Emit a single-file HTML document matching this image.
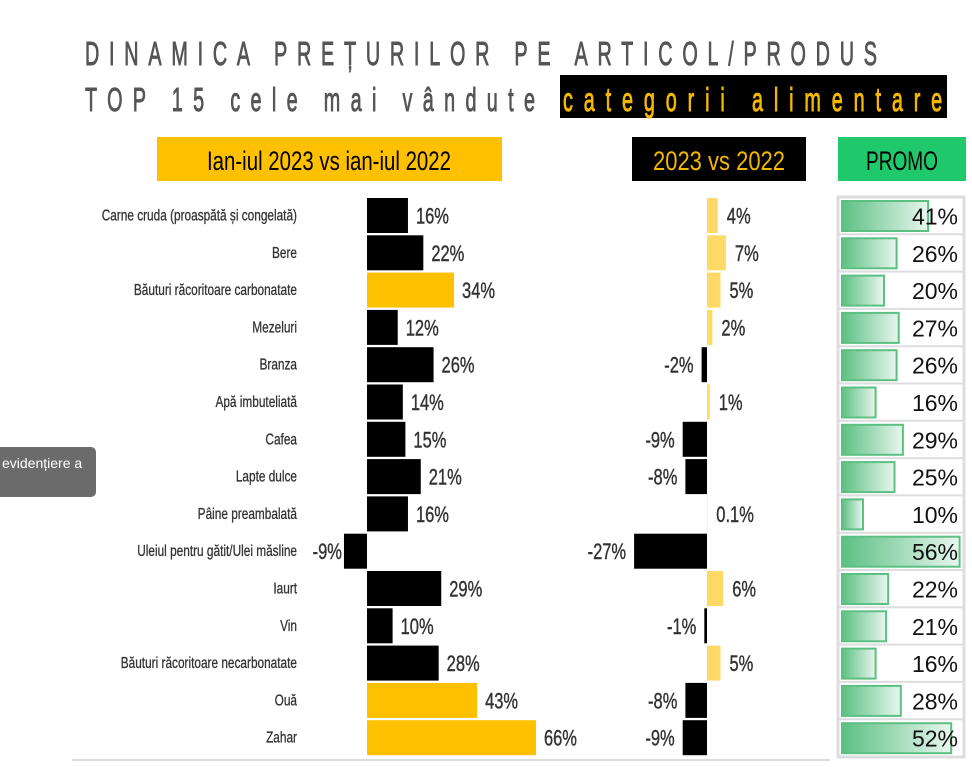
<!DOCTYPE html>
<html><head><meta charset="utf-8"><style>
html,body{margin:0;padding:0;background:#fff;}
svg{display:block;}
</style></head><body>
<svg id="s" width="972" height="767" xmlns="http://www.w3.org/2000/svg" font-family="Liberation Sans, sans-serif">
<rect width="972" height="767" fill="#fff"/>
<text transform="translate(85,65) scale(0.6,1)" font-size="33" fill="#555" stroke="#555" stroke-width="0.9" textLength="1320" lengthAdjust="spacing">DINAMICA PREȚURILOR PE ARTICOL/PRODUS</text>
<text transform="translate(85,111) scale(0.6,1)" font-size="33" fill="#555" stroke="#555" stroke-width="0.9" textLength="750" lengthAdjust="spacing">TOP 15 cele mai vândute</text>
<rect x="560" y="75" width="387" height="43" fill="#000"/>
<text transform="translate(563,111) scale(0.6,1)" font-size="33" fill="#f5b800" stroke="#f5b800" stroke-width="0.9" textLength="632" lengthAdjust="spacing">categorii alimentare</text>
<rect x="157" y="137" width="345" height="44" fill="#ffc000"/>
<text x="329" y="170" font-size="27" fill="#000" text-anchor="middle" textLength="244" lengthAdjust="spacingAndGlyphs">Ian-iul 2023 vs ian-iul 2022</text>
<rect x="632" y="137" width="174" height="44" fill="#000"/>
<text x="719" y="170" font-size="27" fill="#f5b800" text-anchor="middle" textLength="132" lengthAdjust="spacingAndGlyphs">2023 vs 2022</text>
<rect x="838" y="137" width="128" height="44" fill="#1fc86a"/>
<text x="902" y="170" font-size="27" fill="#000" text-anchor="middle" textLength="72" lengthAdjust="spacingAndGlyphs">PROMO</text>
<rect x="-10" y="447" width="106" height="50" rx="5" fill="#6b6b6b"/>
<text x="2" y="468" font-size="14" fill="#fff">evidențiere a</text>
<line x1="72" y1="760" x2="830" y2="760" stroke="#bbb" stroke-width="1"/>
<defs><linearGradient id="g" x1="0" x2="1"><stop offset="0" stop-color="#5cc083"/><stop offset="1" stop-color="#e8f6ee"/></linearGradient></defs>
<g id="rows"></g>
</svg>
<script>
var L=["Carne cruda (proaspătă și congelată)","Bere","Băuturi răcoritoare carbonatate","Mezeluri","Branza","Apă imbuteliată","Cafea","Lapte dulce","Pâine preambalată","Uleiul pentru gătit/Ulei măsline","Iaurt","Vin","Băuturi răcoritoare necarbonatate","Ouă","Zahar"];
var A=[16,22,34,12,26,14,15,21,16,-9,29,10,28,43,66];
var Y={2:1,13:1,14:1};
var B=[4,7,5,2,-2,1,-9,-8,0.1,-27,6,-1,5,-8,-9];
var P=[41,26,20,27,26,16,29,25,10,56,22,21,16,28,52];
var h="";
h+='<rect x="838" y="197" width="126" height="560" fill="#fff" stroke="#ddd" stroke-width="3"/>';
for(var i=0;i<15;i++){
 var t=197+37.3*i, c=t+18.5, yb=c+8;
 h+='<text transform="translate(297,'+(c+5)+') scale(0.74,1)" text-anchor="end" font-size="16" fill="#333" stroke="#333" stroke-width="0.3">'+L[i]+'</text>';
 var a=A[i], w=Math.abs(a)*2.56, x=a<0?367-w:367;
 h+='<rect x="'+x+'" y="'+(t+1)+'" width="'+w+'" height="35" fill="'+(Y[i]?"#ffc000":"#000")+'"/>';
 var lab=a+"%";
 if(a<0) h+='<text transform="translate('+(x-2)+','+yb+') scale(0.75,1)" text-anchor="end" font-size="22" fill="#333" stroke="#333" stroke-width="0.4">'+lab+'</text>';
 else h+='<text transform="translate('+(x+w+8)+','+yb+') scale(0.75,1)" font-size="22" fill="#333" stroke="#333" stroke-width="0.4">'+lab+'</text>';
 var b=B[i], wb=Math.abs(b)*2.7, xb=b<0?707-wb:707;
 h+='<rect x="'+xb+'" y="'+(t+1)+'" width="'+Math.max(wb,0.3)+'" height="35" fill="'+(b<0?"#000":"#ffd966")+'"/>';
 var lb=b+"%";
 if(b<0) h+='<text transform="translate('+(xb-8)+','+yb+') scale(0.75,1)" text-anchor="end" font-size="22" fill="#333" stroke="#333" stroke-width="0.4">'+lb+'</text>';
 else h+='<text transform="translate('+(xb+wb+9)+','+yb+') scale(0.75,1)" font-size="22" fill="#333" stroke="#333" stroke-width="0.4">'+lb+'</text>';
 if(i>0) h+='<line x1="838" x2="964" y1="'+t+'" y2="'+t+'" stroke="#ddd" stroke-width="2"/>';
 h+='<rect x="842" y="'+(t+4)+'" width="'+(P[i]*2.1)+'" height="30" fill="url(#g)" stroke="#5cc083" stroke-width="2"/>';
 h+='<text x="958" y="'+(c+9)+'" text-anchor="end" font-size="23" fill="#111">'+P[i]+'%</text>';
}
document.getElementById("rows").innerHTML=h;
</script>
</body></html>
